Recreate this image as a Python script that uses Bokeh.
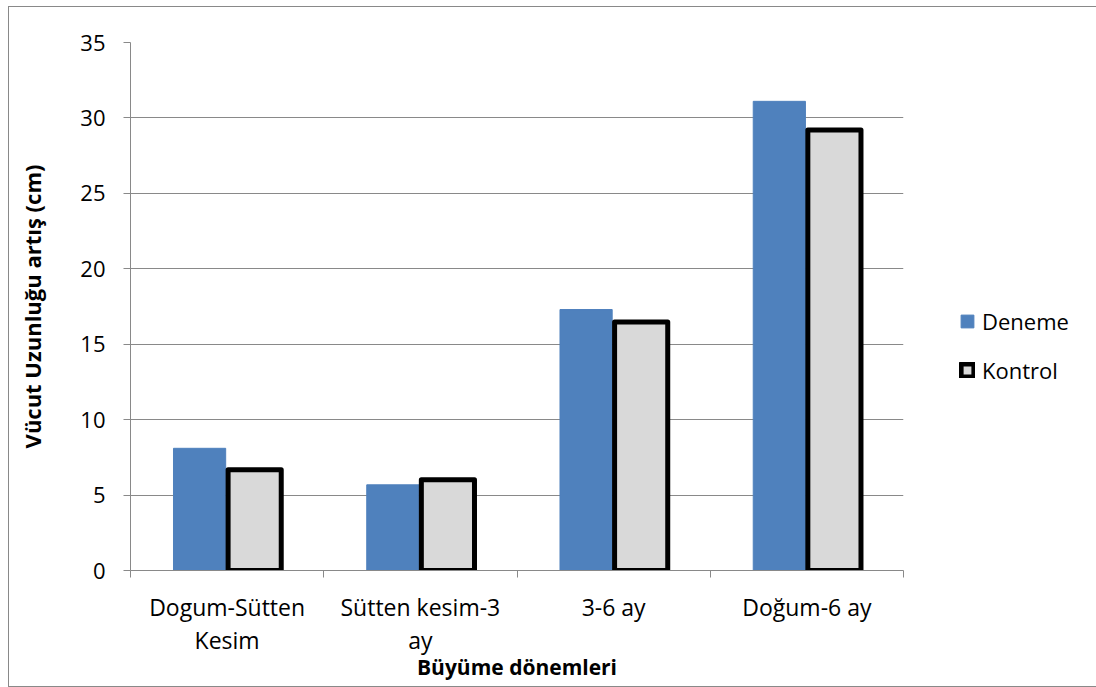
from bokeh.plotting import figure
from bokeh.models import (ColumnDataSource, Range1d, FixedTicker, Legend, LegendItem)
from bokeh.transform import dodge
from bokeh.embed import file_html
from bokeh.resources import INLINE

categories = ["Dogum-Sütten\nKesim", "Sütten kesim-3\nay", "3-6 ay", "Doğum-6 ay"]
deneme = [8.1, 5.68, 17.3, 31.1]
kontrol = [6.68, 6.02, 16.47, 29.2]
y_ticks = [0, 5, 10, 15, 20, 25, 30, 35]

GRAY = "#898989"
FONT = "Open Sans"

xs = [i + 0.5 for i in range(len(categories))]
src = ColumnDataSource(dict(x=xs, deneme=deneme, kontrol=kontrol))

p = figure(frame_width=773, frame_height=528, x_range=Range1d(0, len(categories)),
           y_range=Range1d(0, 35), output_backend="svg", toolbar_location=None,
           min_border_left=121, min_border_top=35, min_border_right=184,
           min_border_bottom=116)
p.styles = {"margin-left": "8px", "margin-top": "6px",
            "border-left": "1px solid " + GRAY, "border-top": "1px solid " + GRAY,
            "border-bottom": "1px solid " + GRAY}
p.outline_line_color = None
p.background_fill_color = "white"
p.border_fill_color = "white"

r1 = p.vbar(x=dodge("x", -0.1425, range=p.x_range), top="deneme", width=0.27,
            source=src, fill_color="#4F81BD", line_color="#4F81BD", line_width=1)
r2 = p.vbar(x=dodge("x", 0.1425, range=p.x_range), top="kontrol", width=0.275,
            source=src, fill_color="#D9D9D9", line_color="black", line_width=5,
            line_join="round")

# x axis
xa = p.xaxis[0]
xa.ticker = FixedTicker(ticks=xs, minor_ticks=list(range(len(categories) + 1)))
xa.major_label_overrides = {x: c for x, c in zip(xs, categories)}
xa.major_tick_out = 0
xa.major_tick_in = 0
xa.minor_tick_out = 7
xa.minor_tick_in = 0
xa.minor_tick_line_color = GRAY
xa.axis_line_color = GRAY
xa.major_label_text_font = FONT
xa.major_label_text_font_size = "23px"
xa.major_label_text_color = "black"
xa.major_label_text_line_height = 1.05
xa.major_label_standoff = 13
xa.axis_label = "Büyüme dönemleri"
xa.axis_label_text_font = FONT
xa.axis_label_text_font_size = "21px"
xa.axis_label_text_font_style = "bold"
xa.axis_label_text_color = "black"
xa.axis_label_standoff = -6
p.xgrid.visible = False

# y axis
ya = p.yaxis[0]
ya.ticker = FixedTicker(ticks=y_ticks)
ya.minor_tick_line_color = None
ya.major_tick_out = 7
ya.major_tick_in = 0
ya.major_tick_line_color = GRAY
ya.axis_line_color = GRAY
ya.major_label_text_font = FONT
ya.major_label_text_font_size = "22px"
ya.major_label_text_color = "black"
ya.major_label_standoff = 18
ya.axis_label = "Vücut Uzunluğu artış (cm)"
ya.axis_label_text_font = FONT
ya.axis_label_text_font_size = "22px"
ya.axis_label_text_font_style = "bold"
ya.axis_label_text_color = "black"
ya.axis_label_standoff = 30
p.ygrid.grid_line_color = GRAY
p.ygrid.ticker = FixedTicker(ticks=y_ticks[1:])

legend = Legend(items=[LegendItem(label="Deneme", renderers=[r1]),
                       LegendItem(label="Kontrol", renderers=[r2])],
                location=(56, 185), orientation="vertical")
legend.border_line_color = None
legend.background_fill_alpha = 0
legend.padding = 0
legend.margin = 0
legend.glyph_width = 16
legend.glyph_height = 16
legend.label_height = 22
legend.spacing = 19
legend.label_standoff = 7
legend.label_text_font = FONT
legend.label_text_font_size = "22px"
legend.label_text_color = "black"
p.add_layout(legend, "right")

open("out.html", "w").write(file_html(p, INLINE))
